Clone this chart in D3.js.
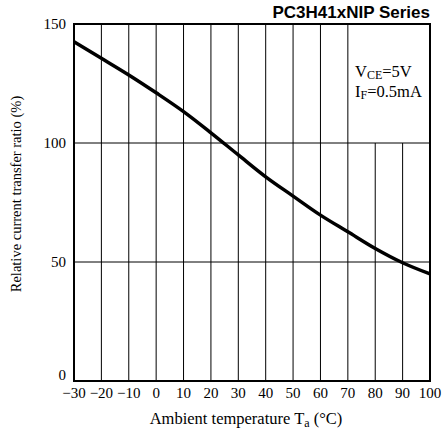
<!DOCTYPE html>
<html>
<head>
<meta charset="utf-8">
<script src="https://cdn.jsdelivr.net/npm/d3@7"></script>
<style>
  body { margin: 0; background: #fff; }
  text { font-family: "Liberation Serif", "Times New Roman", serif; fill: #000; }
</style>
</head>
<body>
<div id="chart"></div>
<script>
// data
const temps = [-30, -20, -10, 0, 10, 20, 30, 40, 50, 60, 70, 80, 90, 100];
const ratio = [142.5, 135.6, 128.6, 121.1, 113.2, 104.3, 95, 85.8, 77.7, 69.7, 62.7, 55.7, 49.7, 45];
const yTicks = [0, 50, 100, 150];
const xTicks = [-30, -20, -10, 0, 10, 20, 30, 40, 50, 60, 70, 80, 90, 100];
const shortLines = [80, 90]; // grid lines that stop under the legend

const width = 442, height = 432;
const margin = { left: 74, right: 12, top: 24, bottom: 51 };

const svg = d3.select('#chart').append('svg')
  .attr('width', width)
  .attr('height', height);

const x = d3.scaleLinear().domain([-30, 100]).range([margin.left, width - margin.right]);
const y = d3.scaleLinear().domain([0, 150]).range([height - margin.bottom, margin.top]);

// grid
const grid = svg.append('g').attr('stroke', '#000').attr('stroke-width', 1);
xTicks.slice(1, -1).forEach(t => {
  grid.append('line')
    .attr('x1', x(t)).attr('x2', x(t))
    .attr('y1', y(0))
    .attr('y2', shortLines.includes(t) ? y(100) : y(150));
});
yTicks.slice(1, -1).forEach(t => {
  grid.append('line')
    .attr('x1', x(-30)).attr('x2', x(100))
    .attr('y1', y(t)).attr('y2', y(t));
});

// frame
svg.append('rect')
  .attr('x', x(-30)).attr('y', y(150))
  .attr('width', x(100) - x(-30))
  .attr('height', y(0) - y(150))
  .attr('fill', 'none')
  .attr('stroke', '#000')
  .attr('stroke-width', 2);

// curve
const line = d3.line()
  .x((d, i) => x(temps[i]))
  .y(d => y(d))
  .curve(d3.curveMonotoneX);

svg.append('path')
  .attr('d', line(ratio))
  .attr('fill', 'none')
  .attr('stroke', '#000')
  .attr('stroke-width', 3.5)
  .attr('stroke-linejoin', 'round');

// tick labels (the 0 sits a little above the axis, clear of the x labels)
svg.append('g').selectAll('text')
  .data(yTicks).enter().append('text')
  .attr('x', x(-30) - 8)
  .attr('y', d => d === 0 ? y(d) - 1 : y(d) + 5)
  .attr('text-anchor', 'end')
  .attr('font-size', 15)
  .text(d => d);

svg.append('g').selectAll('text')
  .data(xTicks).enter().append('text')
  .attr('x', d => x(d))
  .attr('y', y(0) + 17)
  .attr('text-anchor', 'middle')
  .attr('font-size', 15)
  .text(d => d < 0 ? '\u2212' + Math.abs(d) : d);

// axis titles
const xt = svg.append('text')
  .attr('x', 246)
  .attr('y', 424)
  .attr('text-anchor', 'middle')
  .attr('font-size', 16.5);
xt.append('tspan').text('Ambient temperature T');
xt.append('tspan').attr('font-size', 12).attr('dy', 3).text('a');
xt.append('tspan').attr('dy', -3).text(' (\u00b0C)');

svg.append('text')
  .attr('transform', 'translate(21,194) rotate(-90)')
  .attr('text-anchor', 'middle')
  .attr('font-size', 14.5)
  .text('Relative current transfer ratio (%)');

// legend
const leg1 = svg.append('text').attr('x', 355).attr('y', 77).attr('font-size', 16.5);
leg1.append('tspan').text('V');
leg1.append('tspan').attr('font-size', 12).attr('dy', 2).text('CE');
leg1.append('tspan').attr('dy', -2).text('=5V');

const leg2 = svg.append('text').attr('x', 355).attr('y', 97).attr('font-size', 16.5);
leg2.append('tspan').text('I');
leg2.append('tspan').attr('font-size', 12).attr('dy', 2).text('F');
leg2.append('tspan').attr('dy', -2).text('=0.5mA');

// series label
svg.append('text')
  .attr('x', 430)
  .attr('y', 18)
  .attr('text-anchor', 'end')
  .attr('font-size', 17)
  .attr('font-weight', 'bold')
  .style('font-family', '"Liberation Sans", Arial, sans-serif')
  .text('PC3H41xNIP Series');
</script>
</body>
</html>
